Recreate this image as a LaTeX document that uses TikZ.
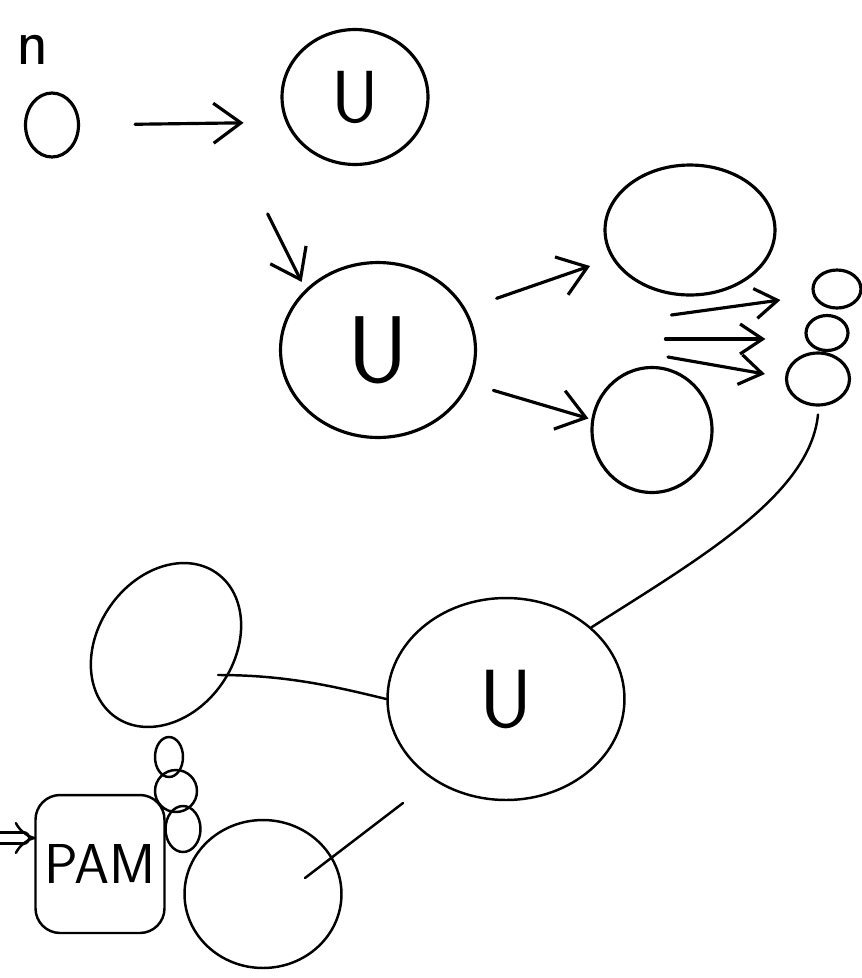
\documentclass[tikz,border=0pt]{standalone}
\usepackage{fontspec}
\usetikzlibrary{shapes.geometric,arrows.meta,calc}
\begin{document}
\begin{tikzpicture}[x=0.02cm,y=-0.02cm,
  bub/.style={draw, ellipse, inner sep=0pt, line width=1.8pt},
  thin bub/.style={draw, ellipse, inner sep=0pt, line width=1.4pt},
  lab/.style={font=\sffamily\fontsize{#1}{#1}\selectfont},
  arr/.style={line width=1.8pt, line cap=round, -{Straight Barb[length=5.5mm,width=8mm]}},
  sarr/.style={line width=1.8pt, line cap=round, -{Straight Barb[length=4.5mm,width=6mm]}},
  ln/.style={line width=1.4pt, line cap=round}]
\useasboundingbox (0,0) rectangle (862,978);

% top group
\node[lab=38] (nlab) at (33,50) {n};
\node[bub, minimum width=1.06cm, minimum height=1.28cm] (n0) at (52,125) {};
\node[bub, minimum width=2.92cm, minimum height=2.70cm, lab=42] (U1) at (355,97) {U};
\node[bub, minimum width=3.90cm, minimum height=3.50cm, lab=54] (U2) at (378,350) {U};
\node[bub, minimum width=3.40cm, minimum height=2.60cm] (TR) at (690,230) {};
\node[bub, minimum width=2.40cm, minimum height=2.50cm] (LR) at (652,430) {};
\node[bub, minimum width=0.96cm, minimum height=0.76cm] (s1) at (837,289) {};
\node[bub, minimum width=0.84cm, minimum height=0.70cm] (s2) at (827,333) {};
\node[bub, minimum width=1.26cm, minimum height=1.04cm] (s3) at (818,379) {};

\draw[arr, shorten <=1.1cm, shorten >=0.84cm] (n0.east) -- (U1.200);
\draw[arr] ($(U2.150)+(-27,-88)$) -- ($(U2.150)+(7,-20)$);
\draw[arr, shorten <=0.65cm, shorten >=0.46cm] (U2.25) -- (TR.200);
\draw[arr, shorten <=0.49cm, shorten >=0.06cm] (U2.340) -- (LR.170);
\draw[sarr] ($(s1.west)+(-140,26)$) -- ($(s1.west)+(-31,11)$);
\draw[sarr] ($(s2.west)+(-139,6)$) -- ($(s2.west)+(-39,6)$);
\draw[sarr] ($(s3.west)+(-117,-22)$) -- ($(s3.west)+(-20,-5)$);

% bottom group
\node[thin bub, minimum width=4.74cm, minimum height=4.04cm, lab=47] (U3) at (506,699) {U};
\node[thin bub, minimum width=3.52cm, minimum height=2.72cm, rotate=55] (L) at (166,645) {};
\node[thin bub, minimum width=3.14cm, minimum height=2.96cm] (B) at (263,894) {};
\node[draw, ln, rectangle, rounded corners=14pt, inner sep=0pt,
      minimum width=2.58cm, minimum height=2.76cm, lab=32] (PAM) at (100,864) {PAM};
\node[thin bub, minimum width=0.56cm, minimum height=0.80cm] (p1) at (169,757) {};
\node[thin bub, minimum width=0.84cm, minimum height=0.84cm] (p2) at (176,791) {};
\node[thin bub, minimum width=0.70cm, minimum height=0.92cm] (p3) at (183,829) {};

\draw[ln] ($(s3.south)+(0,8)$) .. controls +(-8,80) and +(110,-70) .. (U3.40);
\draw[ln] ($(L.center)+(52,30)$) .. controls +(70,0) and +(-50,-12) .. (U3.west);
\draw[ln] ($(B.center)+(140,-91)$) -- ($(B.center)+(42,-16)$);
\draw[ln, double distance=5pt, -{Implies}] ($(PAM.west)+(-45,-26)$) -- ($(PAM.west)+(2,-26)$);
\end{tikzpicture}
\end{document}
